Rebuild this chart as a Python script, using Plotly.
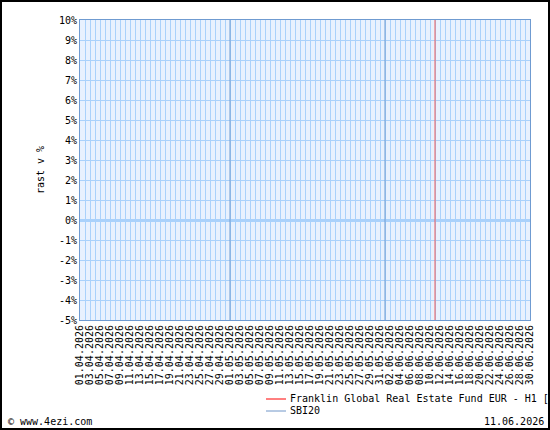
import plotly.graph_objects as go

# obdobje grafa in datum zadnjega podatka
start_date = "2026-04-01"
end_date = "2026-06-30"
report_date = "2026-06-11"
month_starts = ["2026-05-01", "2026-06-01"]

# serije (v izbranem obdobju ni podatkov)
fund_name = "Franklin Global Real Estate Fund EUR - H1 [mdis] EUR"
fund_dates = []
fund_values = []
index_name = "SBI20"
index_dates = []
index_values = []

y_ticks = list(range(-5, 11))
y_labels = [f"{v}%" for v in y_ticks]

font = "DejaVu Sans Mono"
grid = "#a9d1fb"
frame = "#6f9bd1"
fund_color = "#ff0000"
index_color = "#7096c8"

fig = go.Figure()

fig.add_trace(go.Scatter(x=fund_dates, y=fund_values, name=fund_name,
                         mode="lines", line=dict(color=fund_color, width=1)))
fig.add_trace(go.Scatter(x=index_dates, y=index_values, name=index_name,
                         mode="lines", line=dict(color=index_color, width=1)))

# zacetki mesecev - temnejse navpicne crte (nad mrezo)
for d in month_starts:
    fig.add_vline(x=d, line=dict(color=frame, width=1))

# oznaka datuma
fig.add_vline(x=report_date, line=dict(color="#f05a5a", width=1))

# okvir slike
fig.add_shape(type="rect", xref="paper", yref="paper",
              x0=-79 / 450, x1=1 + 19 / 450, y0=-109 / 300, y1=1 + 19 / 300,
              line=dict(color="black", width=2))

# legenda pod grafom (plotly legenda ima prevelik razmik med vrsticami)
for i, (name, color) in enumerate([(fund_name, fund_color), (index_name, index_color)]):
    yy = -(79 + 12 * i) / 300
    fig.add_shape(type="line", xref="paper", yref="paper",
                  x0=186 / 450, x1=206 / 450, y0=yy, y1=yy,
                  line=dict(color=color, width=1))
    fig.add_annotation(text=name, xref="paper", yref="paper",
                       x=208 / 450, y=yy, xanchor="left", yanchor="middle",
                       showarrow=False, font=dict(family=font, size=10, color="black"))

fig.add_annotation(text="© www.4ezi.com", xref="paper", yref="paper",
                   x=-74 / 450, y=-101 / 300, xanchor="left", yanchor="middle",
                   showarrow=False, font=dict(family=font, size=10, color="black"))
fig.add_annotation(text="11.06.2026", xref="paper", yref="paper",
                   x=1 + 16 / 450, y=-101 / 300, xanchor="right", yanchor="middle",
                   showarrow=False, font=dict(family=font, size=10, color="black"))

fig.update_layout(
    width=550, height=430,
    margin=dict(l=80, r=20, t=20, b=110, autoexpand=False),
    paper_bgcolor="white",
    plot_bgcolor="#e8f1fe",
    font=dict(family=font, size=10, color="black"),
    showlegend=False,
)

fig.update_xaxes(
    type="date", range=[start_date, end_date],
    tick0=start_date, dtick=2 * 86400000, tickformat="%d.%m.%Y",
    tickangle=-90, tickfont=dict(family=font, size=10),
    showgrid=True, gridcolor=grid, gridwidth=1,
    minor=dict(dtick=86400000, showgrid=True, gridcolor=grid, gridwidth=1),
    showline=True, linecolor=frame, linewidth=1, mirror=True,
    ticks="", zeroline=False,
)

fig.update_yaxes(
    range=[-5, 10], tickvals=y_ticks, ticktext=y_labels,
    title=dict(text="rast v %", standoff=12, font=dict(family=font, size=10)),
    showgrid=True, gridcolor=grid, gridwidth=1,
    zeroline=True, zerolinecolor=grid, zerolinewidth=3,
    showline=True, linecolor=frame, linewidth=1, mirror=True,
    ticks="",
)

fig.write_html("out.html", config={"displayModeBar": False},
               post_script="document.body.style.margin='0';")
